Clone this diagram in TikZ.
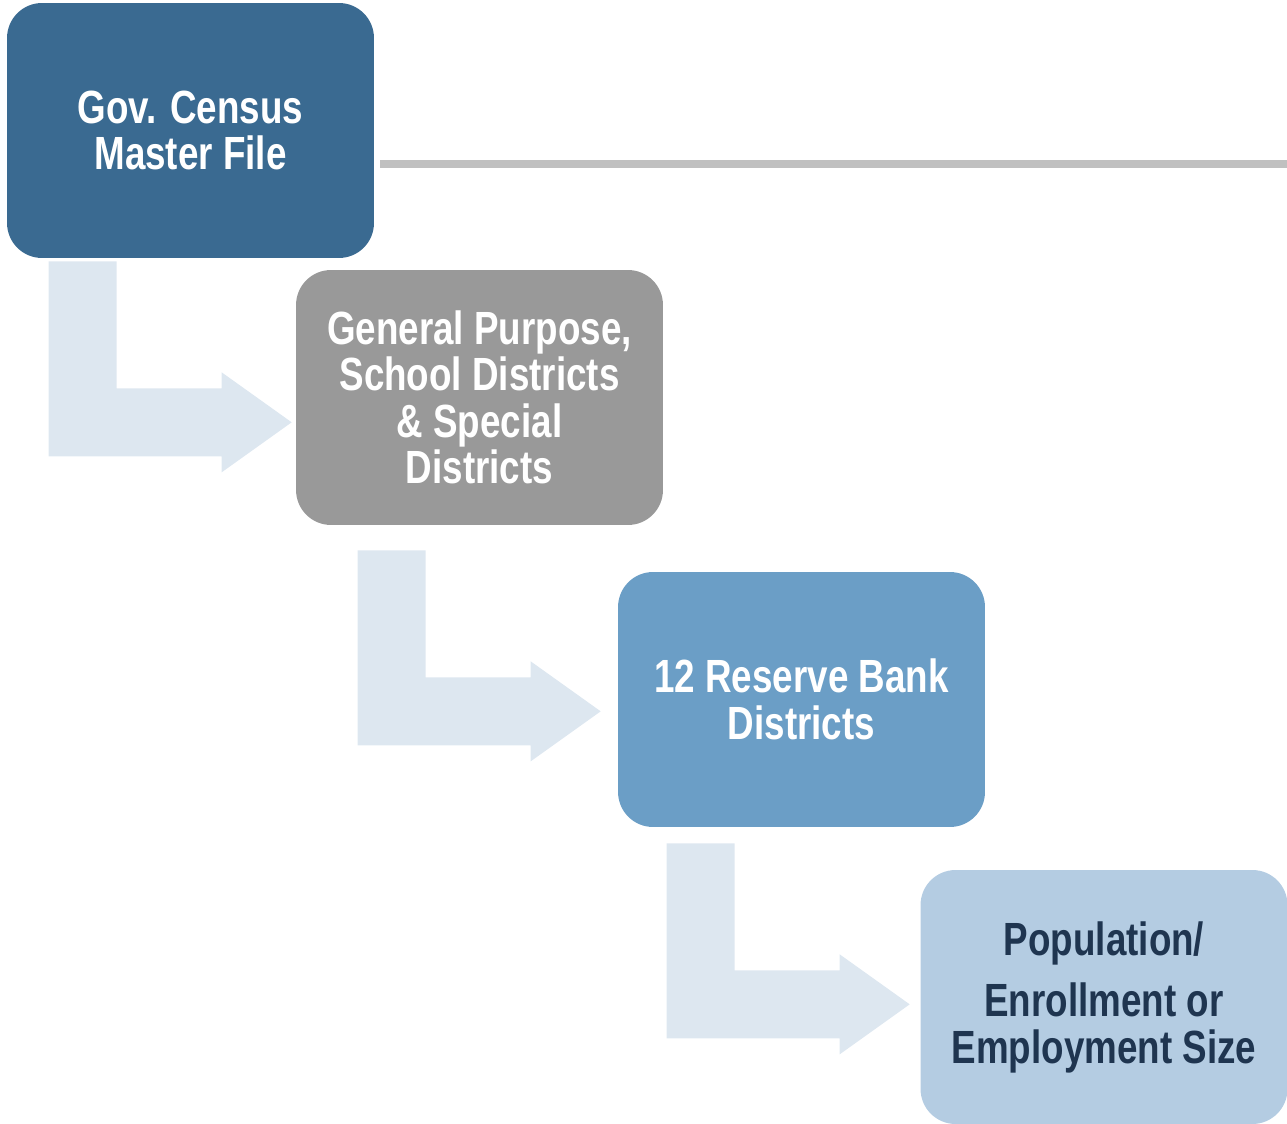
\documentclass[tikz,border=0pt]{standalone}
\usepackage{fontspec}
\newfontfamily\narrowsf[FakeStretch=0.79]{Liberation Sans}
\usetikzlibrary{calc}

\definecolor{govblue}{HTML}{3A6A91}
\definecolor{stepgray}{HTML}{999999}
\definecolor{bankblue}{HTML}{6B9EC6}
\definecolor{sizeblue}{HTML}{B4CCE2}
\definecolor{sizetext}{HTML}{1F3550}
\definecolor{flowfill}{HTML}{DDE7F0}
\definecolor{rulegray}{HTML}{C0C0C0}

\tikzset{
  level/.style={
    rectangle, rounded corners=0.7cm, inner sep=0pt,
    minimum width=7.34cm, minimum height=5.1cm,
    align=center, text=white,
    font=\narrowsf\bfseries\fontsize{26.5}{26.5}\selectfont
  },
  flow/.style={fill=flowfill, draw=none},
  divider/.style={draw=rulegray, line width=0.16cm},
}

% bent arrow, given its top left corner
\newcommand{\flowarrow}[1]{%
  \path[flow] #1 -- ++(68,0) -- ++(0,127) -- ++(105,0) -- ++(0,-16)
    -- ++(70,50) -- ++(-70,50) -- ++(0,-16) -- ++(-173,0) -- cycle;}

\begin{document}
\begin{tikzpicture}[x=0.02cm, y=-0.02cm]
  \useasboundingbox (0,0) rectangle (1287,1124);

  % Levels
  \node[level, fill=govblue] (gov) at (190.5,130.5) {Gov. Census\\Master File};
  \node[level, fill=stepgray] (gpsd) at (479.5,397.5)
    {General Purpose,\\School Districts\\\& Special\\Districts};
  \node[level, fill=bankblue] (frb) at (801.5,699.5) {12 Reserve Bank\\Districts};
  \node[level, fill=sizeblue, text=sizetext, minimum height=5.08cm] (size)
    at (1104,997) {Population/\\[8.5pt]Enrollment or\\Employment Size};

  % Divider
  \coordinate (ruleend) at (1287,164);
  \draw[divider] (gov.east |- ruleend) ++(6,0) -- (ruleend);

  % Arrows
  \flowarrow{($(gov.south west)+(42,3)$)}
  \flowarrow{($(gpsd.south west)+(62,25)$)}
  \flowarrow{($(frb.south west)+(49,16)$)}
\end{tikzpicture}
\end{document}
